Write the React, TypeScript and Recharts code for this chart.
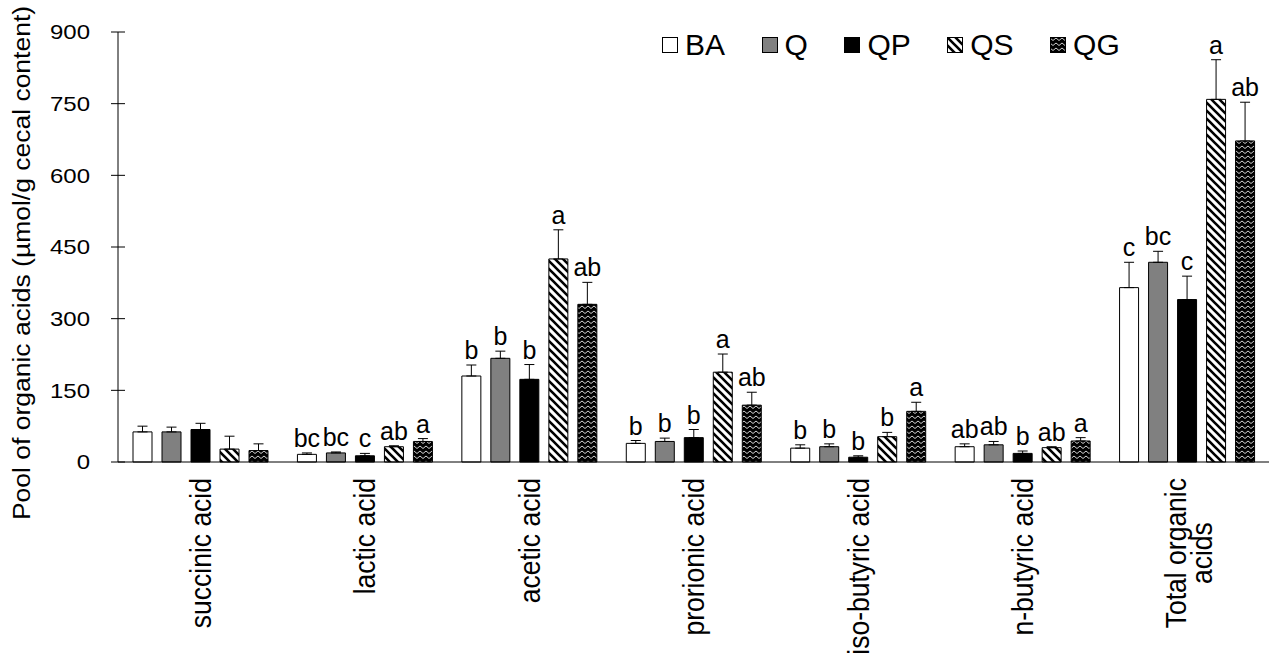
import React from 'react';
import { BarChart, Bar, XAxis, YAxis, ErrorBar, LabelList } from 'recharts';

// Organic acid pools (µmol/g cecal content) per diet group
const categories = [
  'succinic acid',
  'lactic acid',
  'acetic acid',
  'prorionic acid',
  'iso-butyric acid',
  'n-butyric acid',
  'Total organic acids',
];

const baMean = [63, 16, 180, 39, 29, 32, 365];
const baErr = [12, 3, 23, 6, 7, 6, 53];
const baLetters = ['', 'bc', 'b', 'b', 'b', 'ab', 'c'];

const qMean = [63, 19, 217, 43, 32, 36, 418];
const qErr = [10, 2, 15, 7, 6, 7, 23];
const qLetters = ['', 'bc', 'b', 'b', 'b', 'ab', 'bc'];

const qpMean = [68, 13, 173, 51, 10, 18, 340];
const qpErr = [13, 5, 31, 17, 3, 5, 49];
const qpLetters = ['', 'c', 'b', 'b', 'b', 'b', 'c'];

const qsMean = [27, 32, 425, 188, 53, 30, 759];
const qsErr = [27, 2, 61, 38, 9, 2, 83];
const qsLetters = ['', 'ab', 'a', 'a', 'b', 'ab', 'a'];

const qgMean = [24, 43, 330, 119, 106, 44, 672];
const qgErr = [14, 6, 46, 27, 19, 7, 81];
const qgLetters = ['', 'a', 'ab', 'ab', 'a', 'a', 'ab'];

const yTicks = [0, 150, 300, 450, 600, 750, 900];

const FONT = '"Liberation Sans", Arial, Helvetica, sans-serif';

type Series = {
  key: string;
  mean: number[];
  err: number[];
  letters: string[];
  fill: string;
};

const series: Series[] = [
  { key: 'BA', mean: baMean, err: baErr, letters: baLetters, fill: '#ffffff' },
  { key: 'Q', mean: qMean, err: qErr, letters: qLetters, fill: '#808080' },
  { key: 'QP', mean: qpMean, err: qpErr, letters: qpLetters, fill: '#000000' },
  { key: 'QS', mean: qsMean, err: qsErr, letters: qsLetters, fill: 'url(#pat-qs)' },
  { key: 'QG', mean: qgMean, err: qgErr, letters: qgLetters, fill: 'url(#pat-qg)' },
];

const data = categories.map((category, i) => {
  const row: Record<string, unknown> = { category };
  series.forEach((s) => {
    row[s.key] = s.mean[i];
    row[`${s.key}_e`] = [0, s.err[i]];
    row[`${s.key}_l`] = s.letters[i];
  });
  return row;
});

let measureCtx: CanvasRenderingContext2D | null = null;
function textWidth(text: string, size: number): number {
  if (!measureCtx && typeof document !== 'undefined') {
    measureCtx = document.createElement('canvas').getContext('2d');
  }
  if (!measureCtx) return text.length * size * 0.5;
  measureCtx.font = `${size}px "Liberation Sans", Arial, sans-serif`;
  return measureCtx.measureText(text).width;
}

function wrapLabel(label: string, maxChars = 16): string[] {
  if (label.length <= maxChars) return [label];
  const cut = label.lastIndexOf(' ');
  return [label.slice(0, cut), label.slice(cut + 1)];
}

const X_FONT = 26.5;
const X_STRETCH = 1.13;

const XTick = (props: any) => {
  const { x, y, payload } = props;
  const lines = wrapLabel(String(payload.value));
  const transform = `translate(${x},${y}) scale(${X_STRETCH},1) rotate(-90)`;
  if (lines.length === 1) {
    return (
      <g transform={transform}>
        <text x={0} y={9.5} textAnchor="end" fontSize={X_FONT} fontFamily={FONT} fill="#000">
          {lines[0]}
        </text>
      </g>
    );
  }
  const longest = Math.max(...lines.map((l) => textWidth(l, X_FONT)));
  return (
    <g transform={transform}>
      {lines.map((ln, i) => (
        <text
          key={i}
          x={-longest / 2}
          y={-1 + i * 23.5}
          textAnchor="middle"
          fontSize={X_FONT}
          fontFamily={FONT}
          fill="#000"
        >
          {ln}
        </text>
      ))}
    </g>
  );
};

const YTick = (props: any) => {
  const { x, y, payload } = props;
  return (
    <g>
      <line x1={x - 7} x2={x + 7} y1={y} y2={y} stroke="#000" strokeWidth={1} />
      <text
        transform={`translate(${x - 28},${y}) scale(1.2,1)`}
        textAnchor="end"
        dy="0.36em"
        fontSize={20}
        fontFamily={FONT}
        fill="#000"
      >
        {payload.value}
      </text>
    </g>
  );
};

const YTitle = () => (
  <text
    transform="translate(30,263) scale(0.9,1) rotate(-90)"
    textAnchor="middle"
    fontSize={26.5}
    fontFamily={FONT}
    fill="#000"
  >
    Pool of organic acids (µmol/g cecal content)
  </text>
);

// significance letter drawn just above the top of each error bar
const makeLetter = (s: Series) => (props: any) => {
  const { x, y, width, height, index, value } = props;
  if (!value) return null;
  const v = s.mean[index];
  const pxPerUnit = v ? Number(height) / v : 0;
  const top = Number(y) - s.err[index] * pxPerUnit;
  return (
    <text
      x={Number(x) + Number(width) / 2}
      y={top - 6}
      textAnchor="middle"
      fontSize={25}
      fontFamily={FONT}
      fill="#000"
    >
      {value}
    </text>
  );
};

const Swatch = ({ fill }: { fill: string }) => (
  <svg width={16} height={16} style={{ display: 'block' }}>
    <rect x={0.5} y={0.5} width={15} height={15} fill={fill} stroke="#000" strokeWidth={1} />
  </svg>
);

const LegendBox = () => (
  <div
    style={{
      position: 'absolute',
      left: 662,
      top: 25,
      height: 40,
      display: 'flex',
      alignItems: 'center',
      fontFamily: FONT,
      fontSize: 30,
      color: '#000',
      whiteSpace: 'nowrap',
    }}
  >
    {series.map((s, i) => (
      <div
        key={s.key}
        style={{
          display: 'flex',
          alignItems: 'center',
          marginRight: i === series.length - 1 ? 0 : 36.5,
        }}
      >
        <Swatch fill={s.fill} />
        <span style={{ marginLeft: 7, lineHeight: 1 }}>{s.key}</span>
      </div>
    ))}
  </div>
);

export default function App() {
  return (
    <div style={{ position: 'absolute', left: 0, top: 0, width: 1271, height: 662, background: '#fff' }}>
      <svg width={0} height={0} style={{ position: 'absolute' }}>
        <defs>
          <pattern id="pat-qs" patternUnits="userSpaceOnUse" width={8} height={8}>
            <rect width={8} height={8} fill="#fff" />
            <path d="M-2,-2 L10,10 M-2,6 L2,10 M6,-2 L10,2" stroke="#000" strokeWidth={2.6} />
          </pattern>
          <pattern id="pat-qg" patternUnits="userSpaceOnUse" width={6} height={5}>
            <rect width={6} height={5} fill="#000" />
            <polyline points="0,1 3,3.5 6,1" fill="none" stroke="#d0d0d0" strokeWidth={1} />
          </pattern>
        </defs>
      </svg>
      <BarChart
        width={1271}
        height={662}
        data={data}
        margin={{ top: 32, right: 2, bottom: 5, left: 0 }}
        barSize={19}
        barGap={10}
      >
        <XAxis
          dataKey="category"
          height={195}
          axisLine={{ stroke: '#000', strokeWidth: 1 }}
          tickLine={false}
          tickSize={0}
          tickMargin={16}
          interval={0}
          tick={<XTick />}
        />
        <YAxis
          width={118}
          domain={[0, 900]}
          ticks={yTicks}
          interval={0}
          axisLine={{ stroke: '#000', strokeWidth: 1 }}
          tickLine={false}
          tickSize={0}
          tickMargin={0}
          tick={<YTick />}
          label={{ content: () => <YTitle /> }}
        />
        {series.map((s) => (
          <Bar
            key={s.key}
            dataKey={s.key}
            fill={s.fill}
            stroke="#000"
            strokeWidth={1}
            isAnimationActive={false}
          >
            <ErrorBar
              dataKey={`${s.key}_e`}
              width={5}
              stroke="#000"
              strokeWidth={1}
              direction="y"
              isAnimationActive={false}
            />
            <LabelList dataKey={`${s.key}_l`} content={makeLetter(s)} />
          </Bar>
        ))}
      </BarChart>
      <LegendBox />
    </div>
  );
}
